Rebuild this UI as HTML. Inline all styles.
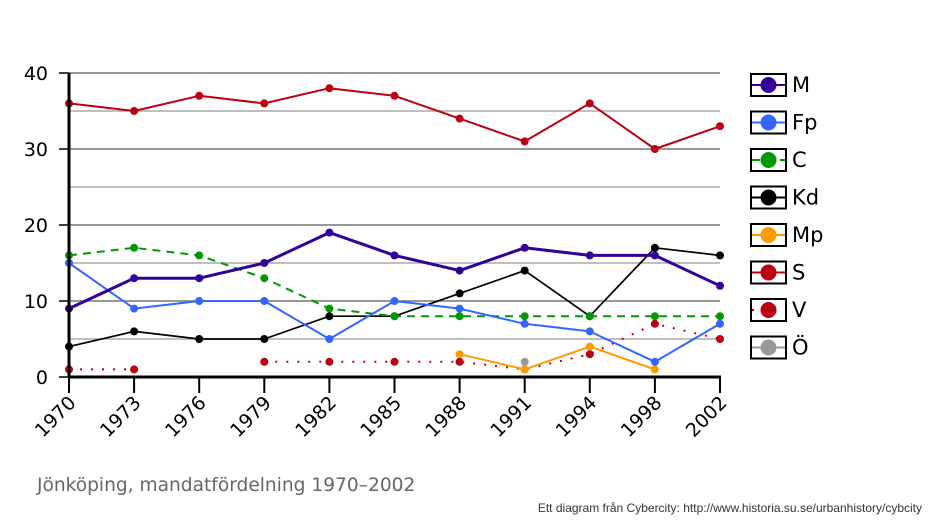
<!DOCTYPE html>
<html><head><meta charset="utf-8">
<style>
html,body{margin:0;padding:0;background:#fff;}
svg{display:block;}
text{font-family:"DejaVu Sans","Liberation Sans",sans-serif;}
</style></head>
<body>
<svg id="chart" width="934" height="521" xmlns="http://www.w3.org/2000/svg">
<g id="grid"></g>
<g id="series"></g>
<g id="axes"></g>
<g id="legend"></g>
<text x="37" y="491" font-size="18.6" fill="#666">Jönköping, mandatfördelning 1970–2002</text>
<text x="922" y="512" text-anchor="end" font-size="12" fill="#333" style="font-family:'Liberation Sans',sans-serif">Ett diagram från Cybercity: http://www.historia.su.se/urbanhistory/cybcity</text>
</svg>
<script>
const years = ["1970","1973","1976","1979","1982","1985","1988","1991","1994","1998","2002"];
const yTicks = [0,10,20,30,40];
const partyNames = ["M","Fp","C","Kd","Mp","S","V","Ö"];
const M  = [9,13,13,15,19,16,14,17,16,16,12];
const Fp = [15,9,10,10,5,10,9,7,6,2,7];
const C  = [16,17,16,13,9,8,8,8,8,8,8];
const Kd = [4,6,5,5,8,8,11,14,8,17,16];
const Mp = [null,null,null,null,null,null,3,1,4,1,null];
const S  = [36,35,37,36,38,37,34,31,36,30,33];
const V  = [1,1,null,2,2,2,2,1,3,7,5];
const O  = [null,null,null,null,null,null,null,2,null,null,null];

const NS="http://www.w3.org/2000/svg";
const x0=69,x1=720,yb=377,yt=73,ymax=40;
const xs=i=>x0+(x1-x0)*i/(years.length-1);
const ys=v=>yb-(yb-yt)*v/ymax;
function mk(tag,attrs,parent){const e=document.createElementNS(NS,tag);for(const k in attrs)e.setAttribute(k,attrs[k]);parent.appendChild(e);return e;}

const grid=document.getElementById('grid');
for(let v=5;v<=40;v+=5){
  const g=mk('line',{x1:x0,x2:x1,y1:ys(v),y2:ys(v),stroke:v%10===0?'#777':'#aaa','stroke-width':1.5},grid);
  
  
}
const axes=document.getElementById('axes');
let a=mk('line',{x1:x0,x2:x0,y1:yt,y2:yb+1,stroke:'#000','stroke-width':3},axes);


a=mk('line',{x1:x0-1,x2:x1+1,y1:yb,y2:yb,stroke:'#000','stroke-width':3},axes);


yTicks.forEach(v=>{
  const t=mk('line',{x1:x0-10,x2:x0,y1:ys(v),y2:ys(v),stroke:'#000','stroke-width':1.5},axes);
  
  
  const l=mk('text',{x:x0-21,y:ys(v)+7,'text-anchor':'end','font-size':19,fill:'#000'},axes);
  l.textContent=v;
  
  
});
years.forEach((yr,i)=>{
  const t=mk('line',{x1:xs(i),x2:xs(i),y1:yb,y2:yb+16,stroke:'#000','stroke-width':2},axes);
  
  
  const l=mk('text',{x:0,y:0,'text-anchor':'end','font-size':19,fill:'#000',transform:`translate(${xs(i)+8},${yb+27}) rotate(-45)`},axes);
  l.textContent=yr;
  
  
});

const styles=[
  {d:M,c:'#330099',w:3,dash:''},
  {d:Fp,c:'#3366ff',w:2,dash:''},
  {d:C,c:'#009900',w:2,dash:'8,6'},
  {d:Kd,c:'#000000',w:1.7,dash:''},
  {d:Mp,c:'#ff9900',w:2,dash:''},
  {d:S,c:'#bb0011',w:2,dash:''},
  {d:V,c:'#bb0011',w:2,dash:'2,9'},
  {d:O,c:'#999999',w:2,dash:''}
];
const order=[5,6,4,7,3,2,1,0];
const series=document.getElementById('series');
order.forEach(k=>{
  const s=styles[k];
  const g=mk('g',{},series);
  
  
  let seg=[];
  const flush=()=>{if(seg.length>1){const p=mk('polyline',{points:seg.join(' '),fill:'none',stroke:s.c,'stroke-width':s.w,'stroke-dasharray':s.dash,'stroke-linejoin':'round'},g);
    
    }seg=[];};
  s.d.forEach((v,i)=>{if(v===null){flush();return;}seg.push(xs(i)+','+ys(v));});
  flush();
  s.d.forEach((v,i)=>{if(v===null)return;
    const c=mk('circle',{cx:xs(i),cy:ys(v),r:4,fill:s.c},g);
    
    
  });
});

const legend=document.getElementById('legend');
partyNames.forEach((n,i)=>{
  const s=styles[i];
  const cy=85+i*37.5;
  const g=mk('g',{},legend);
  
  
  mk('rect',{x:751,y:cy-11,width:35,height:22,fill:'#fff',stroke:'#000','stroke-width':2},g);
  mk('line',{x1:752,x2:785,y1:cy,y2:cy,stroke:s.c,'stroke-width':2,'stroke-dasharray':s.dash},g);
  mk('circle',{cx:768.5,cy:cy,r:8,fill:s.c},g);
  const t=mk('text',{x:792,y:cy+7,'font-size':21,fill:'#000'},g);
  t.textContent=n;
});
</script>
</body></html>
